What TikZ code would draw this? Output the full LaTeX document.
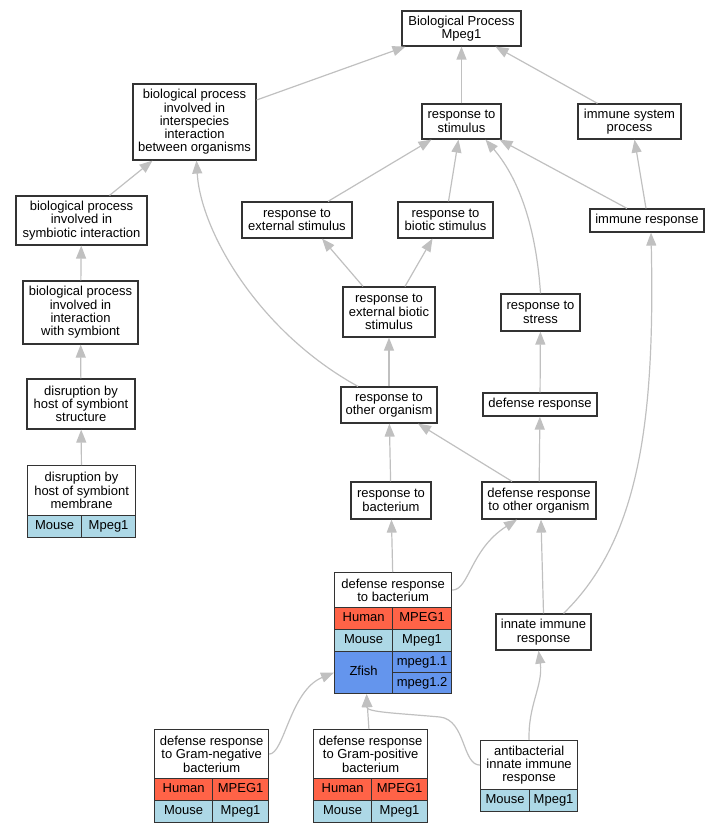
\documentclass[tikz,border=0pt]{standalone}
\usepackage{fontspec}
\setmainfont{Liberation Sans}
\usetikzlibrary{arrows.meta,positioning}
\definecolor{human}{HTML}{FF6347}
\definecolor{mouse}{HTML}{ADD8E6}
\definecolor{zfish}{HTML}{6495ED}
\definecolor{edgegray}{HTML}{C0C0C0}
\definecolor{boxline}{HTML}{333333}
\tikzset{term/.style={draw=boxline,fill=white,line width=1.2pt,align=center,inner sep=0pt,font=\fontsize{13}{13.3}\selectfont},
  cell/.style={term,anchor=north west,minimum height=22pt,text height=9.5pt,text depth=2.8pt},
  isa/.style={draw=edgegray,line width=1.2pt,-{Triangle[length=13pt,width=10pt,fill=edgegray]}}}

\begin{document}
\begin{tikzpicture}[x=1pt,y=-1pt]
  \useasboundingbox (0,0) rectangle (719,832);
  % plain terms
  \node[term,minimum width=119pt,minimum height=35pt] (bp) at (461.5,28.5) {Biological Process\\Mpeg1};
  \node[term,minimum width=79pt,minimum height=35pt] (stim) at (461.5,121.5) {response to\\stimulus};
  \node[term,minimum width=103pt,minimum height=35pt] (imsys) at (629.5,121.5) {immune system\\process};
  \node[term,minimum width=123pt,minimum height=76pt] (inter) at (194.5,122) {biological process\\involved in\\interspecies\\interaction\\between organisms};
  \node[term,minimum width=131pt,minimum height=49pt] (symb) at (81.5,220.5) {biological process\\involved in\\symbiotic interaction};
  \node[term,minimum width=110pt,minimum height=36pt] (extst) at (297,220) {response to\\external stimulus};
  \node[term,minimum width=95pt,minimum height=36pt] (biotic) at (445.5,220) {response to\\biotic stimulus};
  \node[term,minimum width=114pt,minimum height=23pt] (immresp) at (647,220.5) {immune response};
  \node[term,minimum width=115pt,minimum height=63pt] (withsym) at (80.5,312.5) {biological process\\involved in\\interaction\\with symbiont};
  \node[term,minimum width=108pt,minimum height=50pt] (struct) at (81,404) {disruption by\\host of symbiont\\structure};
  \node[term,minimum width=92pt,minimum height=50pt] (extbio) at (389,312) {response to\\external biotic\\stimulus};
  \node[term,minimum width=79pt,minimum height=37pt] (stress) at (540.5,312.5) {response to\\stress};
  \node[term,minimum width=96pt,minimum height=36pt] (other) at (389,405) {response to\\other organism};
  \node[term,minimum width=114pt,minimum height=23pt] (defresp) at (540,404.5) {defense response};
  \node[term,minimum width=80pt,minimum height=37pt] (bact) at (391,500.5) {response to\\bacterium};
  \node[term,minimum width=114pt,minimum height=37pt] (defother) at (539,500.5) {defense response\\to other organism};
  \node[term,minimum width=95pt,minimum height=36pt] (innate) at (543.5,632) {innate immune\\response};

  % terms with genes
  \node[term,anchor=north west,minimum width=108pt,minimum height=50pt] (membh) at (27,465) {disruption by\\host of symbiont\\membrane};
  \node[cell,fill=mouse,minimum width=54pt] (membmo) at (27,515) {Mouse};
  \node[cell,fill=mouse,minimum width=54pt] (membge) at (81,515) {Mpeg1};

  \node[term,anchor=north west,minimum width=117pt,minimum height=35pt] (defbacth) at (334,572) {defense response\\to bacterium};
  \node[cell,fill=human,minimum width=58pt] (defbacthu) at (334,607) {Human};
  \node[cell,fill=human,minimum width=59pt] (defbacthg) at (392,607) {MPEG1};
  \node[cell,fill=mouse,minimum width=58pt] (defbactmo) at (334,629) {Mouse};
  \node[cell,fill=mouse,minimum width=59pt] (defbactmg) at (392,629) {Mpeg1};
  \node[cell,fill=zfish,minimum width=58pt,minimum height=42pt] (zfish) at (334,651) {Zfish};
  \node[cell,fill=zfish,minimum width=59pt,minimum height=21pt] (zfisha) at (392,651) {mpeg1.1};
  \node[cell,fill=zfish,minimum width=59pt,minimum height=21pt] (zfishb) at (392,672) {mpeg1.2};

  \node[term,anchor=north west,minimum width=114pt,minimum height=49pt] (gnegh) at (154,729) {defense response\\to Gram-negative\\bacterium};
  \node[cell,fill=human,minimum width=58pt] (gneghu) at (154,778) {Human};
  \node[cell,fill=human,minimum width=56pt] (gneghg) at (212,778) {MPEG1};
  \node[cell,fill=mouse,minimum width=58pt] (gnegmo) at (154,800) {Mouse};
  \node[cell,fill=mouse,minimum width=56pt] (gnegmg) at (212,800) {Mpeg1};

  \node[term,anchor=north west,minimum width=114pt,minimum height=49pt] (gposh) at (313,729) {defense response\\to Gram-positive\\bacterium};
  \node[cell,fill=human,minimum width=58pt] (gposhu) at (313,778) {Human};
  \node[cell,fill=human,minimum width=56pt] (gposhg) at (371,778) {MPEG1};
  \node[cell,fill=mouse,minimum width=58pt] (gposmo) at (313,800) {Mouse};
  \node[cell,fill=mouse,minimum width=56pt] (gposmg) at (371,800) {Mpeg1};

  \node[term,anchor=north west,minimum width=97pt,minimum height=49pt] (antibh) at (480,740) {antibacterial\\innate immune\\response};
  \node[cell,fill=mouse,minimum width=49pt] (antibmo) at (480,789) {Mouse};
  \node[cell,fill=mouse,minimum width=48pt] (antibmg) at (529,789) {Mpeg1};

  % is-a edges
  \draw[isa] ([yshift=22pt]inter.east) -- ([xshift=-56pt]bp.south);
  \draw[isa] (stim) -- (bp);
  \draw[isa] ([xshift=-32pt]imsys.north) -- ([xshift=34pt]bp.south);
  \draw[isa] ([xshift=28pt]symb.north) -- ([xshift=-42pt]inter.south);
  \draw[isa] (withsym) -- (symb);
  \draw[isa] (struct) -- (withsym);
  \draw[isa] (membh) -- (struct);
  \draw[isa] ([xshift=-31pt]other.north) .. controls +(-100,-55) and +(4,70) .. ([xshift=2pt]inter.south);
  \draw[isa] ([xshift=31pt]extst.north) -- ([xshift=-30pt]stim.south);
  \draw[isa] ([xshift=3pt]biotic.north) -- ([xshift=-3pt]stim.south);
  \draw[isa] (stress.north) .. controls +(-5,-74) and +(30,35) .. ([xshift=24pt]stim.south);
  \draw[isa] ([xshift=-20pt]immresp.north) -- ([xshift=38pt]stim.south);
  \draw[isa] ([xshift=-1pt]immresp.north) -- ([xshift=5pt]imsys.south);
  \draw[isa] ([xshift=-26pt]extbio.north) -- ([xshift=25pt]extst.south);
  \draw[isa] ([xshift=16pt]extbio.north) -- ([xshift=-13pt]biotic.south);
  \draw[isa] (other) -- (extbio);
  \draw[isa] (defresp) -- (stress);
  \draw[isa] (bact) -- (other);
  \draw[isa] ([xshift=-27pt]defother.north) -- ([xshift=29pt]other.south);
  \draw[isa] (defother) -- (defresp);
  \draw[isa] (defbacth) -- (bact);
  \draw[isa] (defbacth.east) .. controls +(17,0) and +(-47,30) .. ([xshift=-22pt]defother.south);
  \draw[isa] (innate.north) -- ([xshift=2pt]defother.south);
  \draw[isa] ([xshift=20pt]innate.north) .. controls +(76,-74) and +(4,188) .. ([xshift=4pt]immresp.south);
  \draw[isa] (gnegh.east) .. controls +(15,0) and +(-44,18) .. (zfish.west);
  \draw[isa] (gposh) -- ([xshift=3pt]zfish.south);
  \draw[isa] (antibh.west) .. controls +(-18,0) and +(26,3) .. (440,717) .. controls +(-45,-4) and +(0,18) .. ([xshift=3pt]zfish.south);
  \draw[isa] (antibh.north) to[out=92,in=-82] ([xshift=-5pt]innate.south);
\end{tikzpicture}
\end{document}
